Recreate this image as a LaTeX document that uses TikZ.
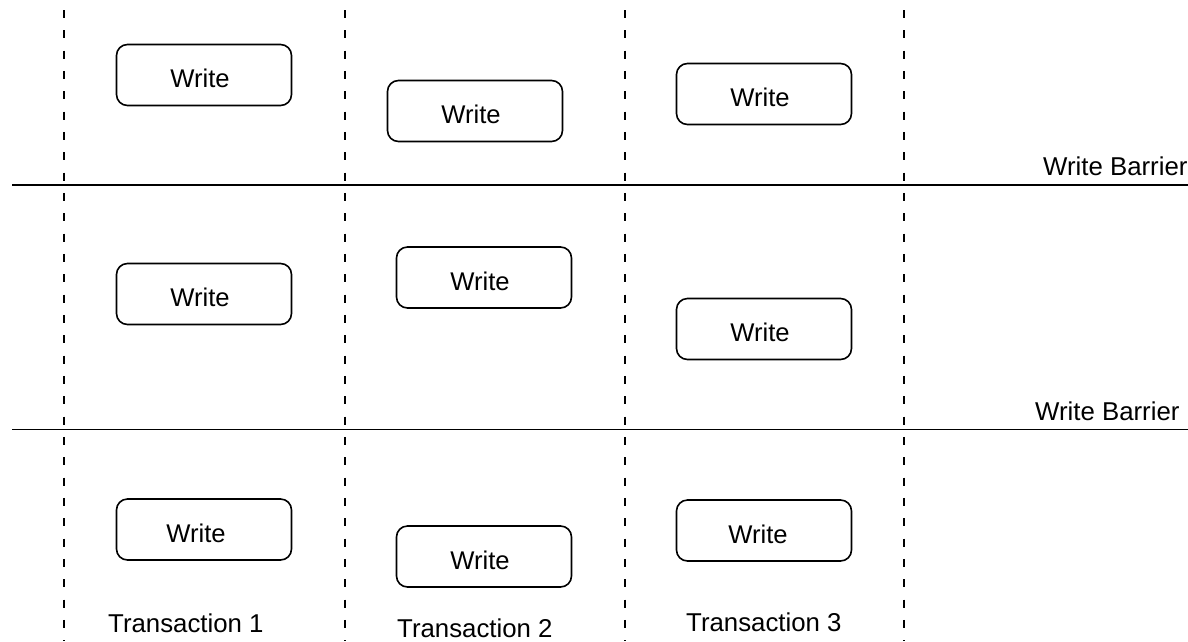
\documentclass[tikz,border=0pt]{standalone}
\usepackage{fontspec}
\setmainfont{Liberation Sans}
\begin{document}
\begin{tikzpicture}[x=1pt,y=-1pt,
  wbox/.style={draw,line width=1.6pt,rounded corners=11pt,minimum width=175pt,minimum height=61pt,
    inner sep=0pt,text height=25pt,text depth=0pt,font=\fontsize{25.6}{30}\selectfont},
  lbl/.style={inner sep=0pt,anchor=base west,font=\fontsize{25.8}{30}\selectfont},
  lane/.style={line width=1.5pt,dash pattern=on 8pt off 12.33pt},
  barrier/.style={line width=1.7pt}]
\useasboundingbox (0,0) rectangle (1188,641);
\clip (0,0) rectangle (1188,641);
% lanes
\foreach \x [count=\i] in {64,345,625,904}{
  \coordinate (t\i) at (\x,10);
  \coordinate (b\i) at (\x,641);
  \draw[lane] (t\i) -- (b\i);
}
% barriers
\coordinate (L1) at (12,185); \coordinate (R1) at (1188,185);
\coordinate (L2) at (12,429.5); \coordinate (R2) at (1188,429.5);
\draw[barrier] (L1) -- (R1);
\draw[barrier] (L2) -- (R2);
\node[lbl] (wb1) at (1043,175) {Write Barrier};
\node[lbl] (wb2) at (1035,420) {Write Barrier};
% writes
\node[wbox] (w11) at (204,75) {\kern-8pt Write};
\node[wbox] (w12) at (475,111) {\kern-8pt Write};
\node[wbox] (w13) at (764,94) {\kern-8pt Write};
\node[wbox] (w21) at (204,294) {\kern-8pt Write};
\node[wbox] (w22) at (484,277.5) {\kern-8pt Write};
\node[wbox] (w23) at (764,329) {\kern-8pt Write};
\node[wbox] (w31) at (204,529.5) {\kern-16pt Write};
\node[wbox] (w32) at (484,556.5) {\kern-8pt Write};
\node[wbox] (w33) at (764,530.5) {\kern-12pt Write};
% transaction labels
\node[lbl] (tr1) at (108,632) {Transaction 1};
\node[lbl] (tr2) at (397,637.5) {Transaction 2};
\node[lbl] (tr3) at (686,631) {Transaction 3};
\end{tikzpicture}
\end{document}
